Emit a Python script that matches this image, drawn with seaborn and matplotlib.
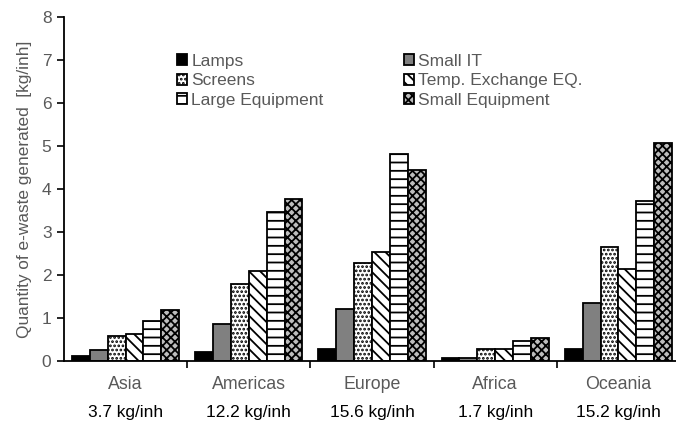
import pandas as pd
import matplotlib
matplotlib.use('Agg')
import matplotlib.pyplot as plt
import matplotlib.transforms as mtransforms
import seaborn as sns

# data
regions = ['Asia', 'Americas', 'Europe', 'Africa', 'Oceania']
per_capita = ['3.7 kg/inh', '12.2 kg/inh', '15.6 kg/inh', '1.7 kg/inh', '15.2 kg/inh']
categories = ['Lamps', 'Small IT', 'Screens', 'Temp. Exchange EQ.', 'Large Equipment', 'Small Equipment']

lamps = [0.12, 0.22, 0.28, 0.08, 0.29]
small_it = [0.25, 0.86, 1.20, 0.08, 1.34]
screens = [0.58, 1.78, 2.28, 0.28, 2.66]
temp_exchange = [0.63, 2.10, 2.54, 0.28, 2.14]
large_equipment = [0.94, 3.46, 4.82, 0.46, 3.73]
small_equipment = [1.18, 3.77, 4.44, 0.54, 5.06]

values = [lamps, small_it, screens, temp_exchange, large_equipment, small_equipment]
rows = []
for cat, vals in zip(categories, values):
    for reg, v in zip(regions, vals):
        rows.append({'region': reg, 'category': cat, 'value': v})
df = pd.DataFrame(rows)

sns.set_style('white')
plt.rcParams['font.family'] = ['Liberation Sans', 'DejaVu Sans']
plt.rcParams['hatch.linewidth'] = 1.3

grey_txt = '#595959'
fills = ['black', '#808080', 'white', 'white', 'white', '#bdbdbd']
hatches = [None, None, '....', '\\\\\\', '--', 'xxxx']

fig = plt.figure(figsize=(6.76, 4.22), dpi=100)
ax = fig.add_axes([64 / 676, 1 - 361 / 422, 616 / 676, 344 / 422])

sns.barplot(data=df, x='region', y='value', hue='category', hue_order=categories,
            palette=fills, edgecolor='black', linewidth=1.3, width=0.87,
            saturation=1, legend=False, ax=ax)

for cont, h in zip(ax.containers, hatches):
    for p in cont.patches:
        p.set_edgecolor('black')
        if h:
            p.set_hatch(h)

ax.set_ylim(0, 8)
ax.set_xlim(-0.5, 4.5)
ax.set_yticks(range(0, 9))
ax.set_xlabel('')
ax.set_ylabel('Quantity of e-waste generated  [kg/inh]', color=grey_txt, fontsize=12.4, labelpad=7)
ax.tick_params(axis='y', length=5, width=1.2, color='black', labelcolor=grey_txt, labelsize=12.5,
               direction='out', left=True, pad=4)
ax.tick_params(axis='x', which='major', length=0, pad=11, labelcolor=grey_txt, labelsize=12.8)
ax.set_xticks([0.5, 1.5, 2.5, 3.5], minor=True)
ax.tick_params(axis='x', which='minor', length=5, width=1.2, color='black', direction='out', bottom=True)
for s in ['top', 'right']:
    ax.spines[s].set_visible(False)
for s in ['left', 'bottom']:
    ax.spines[s].set_color('black')
    ax.spines[s].set_linewidth(1.3)

trans = mtransforms.blended_transform_factory(ax.transData, ax.transAxes)
for i, t in enumerate(per_capita):
    ax.text(i, -0.149, t, transform=trans, ha='center', va='center', fontsize=12.4, color='black')

# legend: two columns, filled column by column
handles = [c.patches[0] for c in ax.containers]
order = [0, 2, 4, 1, 3, 5]
leg = ax.legend([handles[i] for i in order], [categories[i] for i in order],
                ncol=2, frameon=False, loc='upper left',
                bbox_to_anchor=(168 / 676, 1 - 45 / 422), bbox_transform=fig.transFigure,
                fontsize=12.5, handlelength=0.6, handleheight=0.6, handletextpad=0.25,
                labelspacing=0.26, columnspacing=4.6, borderpad=0)
for t in leg.get_texts():
    t.set_color(grey_txt)

fig.savefig('out.png', dpi=100)
